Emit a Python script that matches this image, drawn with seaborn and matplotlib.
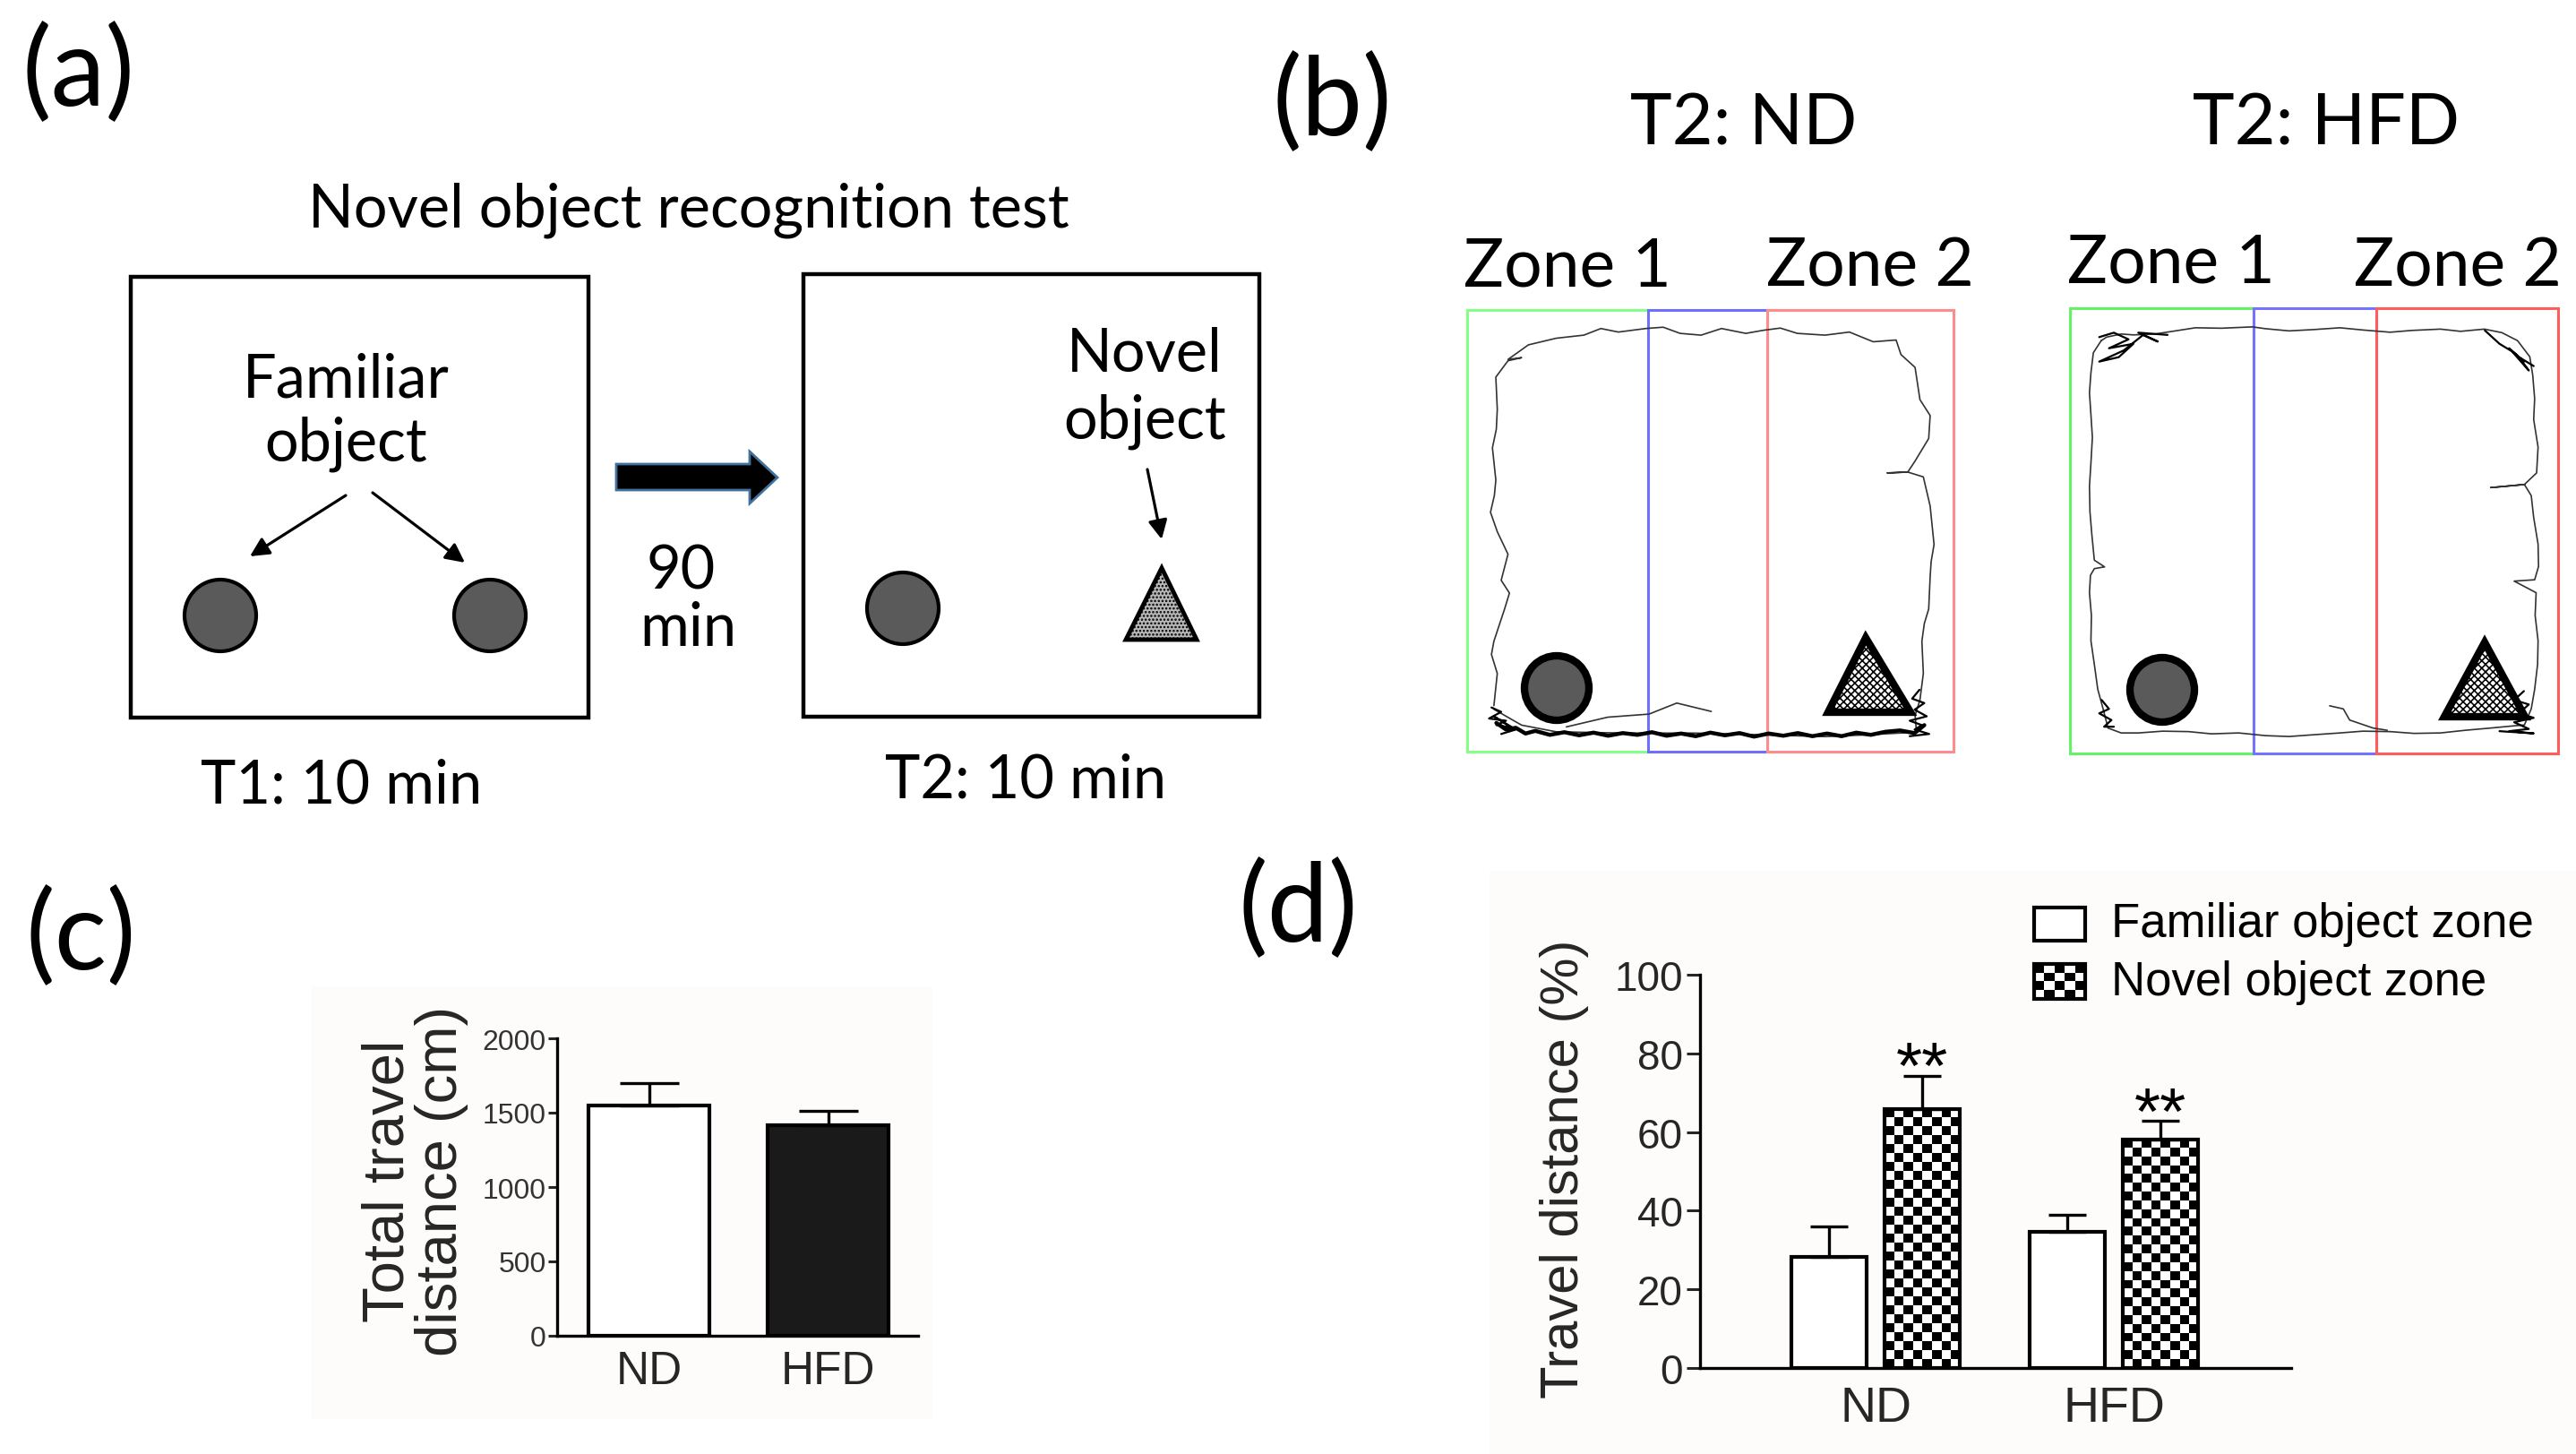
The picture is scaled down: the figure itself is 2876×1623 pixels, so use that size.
import numpy as np
import pandas as pd
import matplotlib.pyplot as plt
import seaborn as sns
from matplotlib.patches import Rectangle, Circle, Polygon

sns.set_theme(style="white")
plt.rcParams['font.family'] = ['Lato', 'DejaVu Sans']
plt.rcParams['text.color'] = 'black'
plt.rcParams['hatch.linewidth'] = 1.2

W, H = 2876, 1624
CHART_FONT = ['Liberation Sans', 'DejaVu Sans']

# ---- data ----
groups = ["ND", "HFD"]
total_dist = [1550, 1415]
total_dist_sem = [150, 100]
zones = ["Familiar object zone", "Novel object zone"]
familiar_pct = [28.3, 34.7]
familiar_sem = [7.7, 4.2]
novel_pct = [65.9, 58.1]
novel_sem = [8.4, 4.7]
stars = ["**", "**"]

# traced paths (arena units, x from left, y from top, 0-100)
nd_track = [(5.5, 89.6), (6.2, 82.3), (5.0, 78.0), (5.5, 75.0), (7.7, 67.7), (8.7, 64.1),
            (7.0, 61.2), (8.4, 55.3), (6.2, 50.2), (4.8, 45.8), (5.6, 42.0), (5.9, 38.5),
            (5.2, 31.2), (6.0, 27.0), (6.2, 22.5), (5.9, 15.2), (8.4, 11.5), (11.2, 10.8),
            (8.4, 11.2), (12.6, 7.9), (18.3, 6.4), (24.0, 5.7), (27.5, 4.2), (31.1, 5.0),
            (36.7, 4.2), (40.3, 3.9), (43.8, 5.3), (48.1, 5.7), (52.3, 4.2), (57.3, 5.3),
            (60.9, 4.6), (64.4, 4.1), (67.9, 5.3), (73.6, 5.7), (78.6, 5.0), (83.5, 7.2),
            (88.2, 6.8), (89.2, 10.1), (92.1, 13.0), (93.1, 20.3), (95.2, 23.9), (94.9, 29.1),
            (92.1, 34.2), (90.6, 36.7), (86.4, 36.9), (90.6, 36.7), (93.8, 37.8), (95.2, 44.4),
            (96.0, 53.1), (95.4, 57.0), (95.2, 60.4), (94.9, 67.7), (94.0, 71.0), (93.5, 75.0),
            (93.8, 82.3), (93.1, 88.3), (92.1, 91.8), (92.4, 95.6), (82.1, 96.2), (73.6, 96.6),
            (60.9, 96.2), (46.7, 95.8), (32.5, 95.8), (18.3, 95.5), (11.2, 94.0), (5.5, 90.4)]
nd_branch = [(20.4, 94.4), (28.9, 92.2), (37.4, 91.5), (43.1, 89.0), (50.2, 90.9)]
nd_scribble = [(6, 93.5), (8, 95.0), (10, 94.6), (12, 95.9), (14, 95.3), (17, 96.2), (20, 95.6),
               (23, 96.3), (26, 95.7), (29, 96.4), (32, 95.8), (35, 96.2), (38, 95.6),
               (41, 96.4), (44, 95.9), (47, 96.5), (50, 95.7), (53, 96.3), (56, 95.8),
               (59, 96.6), (62, 95.9), (65, 96.4), (68, 95.8), (71, 96.5), (74, 95.9),
               (77, 96.5), (80, 95.7), (83, 96.2), (86, 95.5), (89, 95.2), (92, 95.8), (94, 94)]
nd_corner_r = [(93, 86), (91.5, 88), (94, 89), (92, 90.5), (94.5, 92), (91, 93), (93.5, 94),
               (92, 95), (95, 96), (91, 96.5)]
nd_corner_l = [(5, 90), (7, 91), (4.5, 92.5), (8, 93), (6, 94), (9, 94.5), (5.5, 92), (10, 95), (7, 96)]

hfd_track = [(6.4, 7.3), (4.8, 10.0), (4.3, 14.5), (4.0, 19.0), (4.3, 23.9), (4.6, 29.0),
             (4.3, 34.8), (4.0, 40.0), (4.1, 45.7), (4.5, 51.0), (5.0, 56.6), (7.1, 58.1),
             (5.0, 58.5), (4.2, 60.0), (4.0, 63.9), (4.4, 69.0), (4.3, 74.7), (5.0, 80.0),
             (5.7, 85.6), (6.8, 90.0), (7.8, 94.3), (10.5, 95.4), (14.0, 95.4), (19.0, 95.0),
             (24.3, 95.1), (29.0, 95.6), (34.6, 95.4), (40.0, 96.0), (44.9, 96.2), (50.0, 95.8),
             (55.3, 95.4), (60.0, 95.0), (65.6, 95.1), (70.5, 95.5), (75.9, 95.4), (81.0, 94.8),
             (86.2, 94.3), (90.0, 93.9), (93.1, 93.6), (94.5, 90.0), (95.2, 85.6), (95.8, 80.0),
             (95.9, 74.7), (95.3, 69.0), (95.5, 63.9), (91.0, 61.3), (95.2, 61.0), (96.0, 58.0),
             (95.9, 53.0), (95.0, 47.0), (94.5, 42.1), (93.1, 39.6), (86.2, 40.3), (93.1, 39.6),
             (95.6, 37.0), (95.9, 31.2), (95.0, 25.0), (95.2, 20.3), (94.8, 15.0), (94.2, 10.9),
             (91.7, 7.3), (88.5, 5.5), (84.9, 4.7), (80.0, 5.2), (75.9, 4.7), (70.0, 5.0),
             (65.6, 5.4), (60.0, 4.9), (55.3, 4.4), (50.0, 4.8), (44.9, 5.1), (40.0, 4.6),
             (37.4, 4.2), (31.0, 4.5), (25.7, 4.4), (21.0, 5.2), (17.4, 5.8), (13.0, 6.0),
             (10.5, 5.8), (7.5, 6.5), (6.4, 7.3)]
hfd_branch = [(53.2, 89.3), (56.0, 90.0), (57.3, 92.5), (62.1, 94.3), (65.0, 94.8)]
hfd_scribble_tl = [(6, 6.5), (9, 5.5), (12, 7), (8, 9), (13, 8), (10, 11), (6, 12), (11, 9.5),
                   (15, 6), (18, 7.5), (14, 5.5), (20, 6)]
hfd_scribble_tr = [(85, 5), (88, 8), (91, 10), (93, 12), (90, 9), (94, 14), (92, 11), (95, 13)]
hfd_scribble_br = [(93, 86), (91, 88), (94, 89), (92, 91), (95, 92), (91, 93), (94, 94.5),
                   (90, 95), (95, 95.5), (88, 95)]
hfd_scribble_bl = [(6.5, 88), (8, 90), (6, 91), (8.5, 92.5), (7, 94), (9, 94)]


def frac(x0, y0, x1, y1):
    # pixel box (top-left origin) -> figure fraction rect
    return [x0 / W, 1 - y1 / H, (x1 - x0) / W, (y1 - y0) / H]


def checker(ax, x0, x1, y0, y1, nx, ny, clip=None, z=0):
    arr = np.add.outer(np.arange(ny), np.arange(nx)) % 2
    im = ax.imshow(arr, extent=(x0, x1, y0, y1), cmap='gray', interpolation='nearest',
                   aspect='auto', zorder=z, vmin=0, vmax=1)
    if clip is not None:
        im.set_clip_path(clip)
    return im


fig = plt.figure(figsize=(W / 100, H / 100), dpi=100)

# faint backgrounds of the two graphs
bg = fig.add_axes([0, 0, 1, 1])
bg.set_xlim(0, W)
bg.set_ylim(H, 0)
bg.axis('off')
bg.add_patch(Rectangle((348, 1102), 693, 483, facecolor='#fdfcfa', edgecolor='none'))
bg.add_patch(Rectangle((1663, 973), 1213, 651, facecolor='#fdfcfa', edgecolor='none'))

# ---- (c) total travel distance ----
axc = fig.add_axes(frac(622, 1160, 1025, 1492))
axc.patch.set_alpha(0)
dfc = pd.DataFrame({"group": groups, "dist": total_dist})
sns.barplot(data=dfc, x="group", y="dist", hue="group", palette=["white", "#1a1a1a"],
            width=0.675, edgecolor="black", linewidth=3, errorbar=None, legend=False, ax=axc)
axc.errorbar(range(len(groups)), total_dist, yerr=[np.zeros(len(groups)), total_dist_sem],
             fmt="none", ecolor="black", elinewidth=2.4, capsize=24, capthick=2.4, zorder=3)
axc.set_xlim(-0.5125, 1.5025)
axc.set_ylim(0, 2000)
axc.set_yticks([0, 500, 1000, 1500, 2000])
sns.despine(ax=axc)
for s in ["left", "bottom"]:
    axc.spines[s].set_linewidth(2.4)
    axc.spines[s].set_color("black")
axc.tick_params(axis='y', left=True, length=7, width=2.2, pad=2, labelsize=23,
                labelcolor='#333333', direction='out')
axc.tick_params(axis='x', length=0, pad=11, labelsize=37)
for t in axc.get_xticklabels() + axc.get_yticklabels():
    t.set_family(CHART_FONT)
axc.set_xlabel("")
axc.set_ylabel("Total travel\ndistance (cm)", fontsize=47, family=CHART_FONT, linespacing=1.0)
axc.yaxis.set_label_coords(-0.245, 0.524)

# ---- (d) travel distance per zone ----
axd = fig.add_axes(frac(1898, 1089, 2558, 1528))
axd.patch.set_alpha(0)
dfd = pd.DataFrame({"group": groups * 2,
                    "zone": [zones[0]] * len(groups) + [zones[1]] * len(groups),
                    "pct": familiar_pct + novel_pct})
sns.barplot(data=dfd, x="group", y="pct", hue="zone", hue_order=zones,
            palette=["white", "white"], width=0.78, gap=0.19, edgecolor="black",
            linewidth=3, errorbar=None, legend=False, ax=axd)
off = 0.195
xs = np.arange(len(groups))
axd.errorbar(xs - off, familiar_pct, yerr=[np.zeros(len(groups)), familiar_sem], fmt="none",
             ecolor="black", elinewidth=2.4, capsize=15, capthick=2.4, zorder=3)
axd.errorbar(xs + off, novel_pct, yerr=[np.zeros(len(groups)), novel_sem], fmt="none",
             ecolor="black", elinewidth=2.4, capsize=15, capthick=2.4, zorder=3)
for bar in axd.containers[1]:
    bar.set_facecolor('none')
    bar.set_zorder(2)
    x0, y0 = bar.get_x(), bar.get_y()
    bw, bh = bar.get_width(), bar.get_height()
    nx = max(1, int(round(bw * 266 / 10)))
    ny = max(1, int(round(bh * 4.39 / 10)))
    checker(axd, x0, x0 + bw, y0, y0 + bh, nx, ny, clip=bar, z=1)
for i, s in enumerate(stars):
    axd.text(xs[i] + off, novel_pct[i] + novel_sem[i] - 3.0, s, ha='center', va='baseline',
             fontsize=54, family=CHART_FONT)
axd.set_xlim(-0.737, 1.744)
axd.set_ylim(0, 100)
axd.set_yticks(range(0, 101, 20))
sns.despine(ax=axd)
for s in ["left", "bottom"]:
    axd.spines[s].set_linewidth(2.4)
    axd.spines[s].set_color("black")
axd.tick_params(axis='y', left=True, length=11, width=2.2, pad=3, labelsize=33, direction='out')
axd.tick_params(axis='x', length=0, pad=14, labelsize=40)
for t in axd.get_xticklabels() + axd.get_yticklabels():
    t.set_family(CHART_FONT)
axd.set_xlabel("")
axd.set_ylabel("Travel distance (%)", fontsize=43, family=CHART_FONT)
axd.yaxis.set_label_coords(-0.188, 0.508)

# ---- (b) tracks ----
arenas = [
    (frac(1638, 347, 2181, 840), 37.2, 61.7, ['#86ff86', '#6f6fff', '#ff8c8c'],
     nd_track, [nd_branch], [nd_corner_l, nd_corner_r]),
    (frac(2311, 345, 2856, 842), 37.6, 62.8, ['#66f266', '#7373ff', '#ff5c5c'],
     hfd_track, [hfd_branch], [hfd_scribble_tl, hfd_scribble_tr, hfd_scribble_br, hfd_scribble_bl]),
]
for rect, b1, b2, cols, track, branches, scribbles in arenas:
    axa = fig.add_axes(rect)
    axa.set_xlim(0, 100)
    axa.set_ylim(100, 0)
    axa.axis('off')
    for (x0, x1), c in zip([(0, b1), (b1, b2), (b2, 100)], cols):
        axa.add_patch(Rectangle((x0, 0), x1 - x0, 100, fill=False, edgecolor=c, lw=2.2,
                                clip_on=False))
    tx, ty = zip(*track)
    axa.plot(tx, ty, color='#333333', lw=1.2, clip_on=False)
    for br in branches:
        bx, by = zip(*br)
        axa.plot(bx, by, color='#333333', lw=1.2, clip_on=False)
    for sc in scribbles:
        sx, sy = zip(*sc)
        axa.plot(sx, sy, color='black', lw=1.6, clip_on=False)
    if track is nd_track:
        sx, sy = zip(*nd_scribble)
        axa.plot(sx, sy, color='black', lw=3.2, clip_on=False)

# ---- overlay: schematic, objects and panel text ----
ov = fig.add_axes([0, 0, 1, 1])
ov.set_xlim(0, W)
ov.set_ylim(H, 0)
ov.axis('off')

# (a) boxes
for x0, y0, x1, y1 in [(146, 310, 657, 802), (897, 307, 1406, 801)]:
    ov.add_patch(Rectangle((x0, y0), x1 - x0, y1 - y0, fill=False, edgecolor='black', lw=3.2))
for cx, cy in [(246, 688), (547, 688), (1008, 680)]:
    ov.add_patch(Circle((cx, cy), 40, facecolor='#5a5a5a', edgecolor='black', lw=3))
ov.add_patch(Polygon([(1297, 635), (1257, 715), (1336, 715)], closed=True, facecolor='#b8b8b8',
                     edgecolor='black', lw=3.5, hatch='....'))
for (x0, y0), (x1, y1) in [((386, 554), (279, 622)), ((416, 551), (519, 629)),
                           ((1281, 525), (1297, 603))]:
    ov.annotate('', xy=(x1, y1), xytext=(x0, y0),
                arrowprops=dict(arrowstyle='-|>', lw=2.3, color='black', mutation_scale=32,
                                shrinkA=0, shrinkB=0))
ov.add_patch(Polygon([(688, 519), (837, 519), (837, 505), (868, 534), (837, 563), (837, 548),
                      (688, 548)], closed=True, facecolor='black', edgecolor='#41719c', lw=2))

txt = dict(ha='center', va='baseline', color='black')
ov.text(88, 118, "(a)", fontsize=88, **txt)
ov.text(769, 254, "Novel object recognition test", fontsize=48, **txt)
ov.text(386, 444, "Familiar", fontsize=48, **txt)
ov.text(386, 515, "object", fontsize=48, **txt)
ov.text(760, 658, "90", fontsize=48, **txt)
ov.text(768, 721, "min", fontsize=48, **txt)
ov.text(1278, 415, "Novel", fontsize=48, **txt)
ov.text(1278, 490, "object", fontsize=48, **txt)
ov.text(381, 897, "T1: 10 min", fontsize=48, **txt)
ov.text(1145, 891, "T2: 10 min", fontsize=48, **txt)

# (b) labels and objects
ov.text(1487, 151, "(b)", fontsize=88, **txt)
ov.text(1947, 162, "T2: ND", fontsize=57, **txt)
ov.text(2597, 162, "T2: HFD", fontsize=57, **txt)
ov.text(1750, 320, "Zone 1", fontsize=54, **txt)
ov.text(2088, 320, "Zone 2", fontsize=54, **txt)
ov.text(2424, 316, "Zone 1", fontsize=54, **txt)
ov.text(2744, 320, "Zone 2", fontsize=54, **txt)
for cx, cy in [(1738, 769), (2414, 771)]:
    ov.add_patch(Circle((cx, cy), 36, facecolor='#5a5a5a', edgecolor='black', lw=6))
for ax_, bx0, bx1, by in [(2083, 2041, 2133, 796), (2774, 2729, 2819, 801)]:
    ov.add_patch(Polygon([(ax_, by - 83), (bx0, by), (bx1, by)], closed=True, facecolor='white',
                         edgecolor='black', lw=6, hatch='xxxx'))

# (c), (d) labels
ov.text(90, 1082, "(c)", fontsize=88, **txt)
ov.text(1449, 1051, "(d)", fontsize=88, **txt)

# (d) legend
leg1 = Rectangle((2271, 1014), 57, 37, facecolor='white', edgecolor='black', lw=3, zorder=3)
ov.add_patch(leg1)
leg2 = Rectangle((2271, 1077), 57, 39, facecolor='none', edgecolor='black', lw=3, zorder=3)
ov.add_patch(leg2)
checker(ov, 2271, 2328, 1116, 1077, 5, 4, clip=leg2, z=2)
ov.text(2357, 1032, zones[0], fontsize=38, family=CHART_FONT, ha='left', va='center')
ov.text(2357, 1097, zones[1], fontsize=38, family=CHART_FONT, ha='left', va='center')
ov.set_xlim(0, W)
ov.set_ylim(H, 0)

fig.savefig("out.png", dpi=100, facecolor='white')
